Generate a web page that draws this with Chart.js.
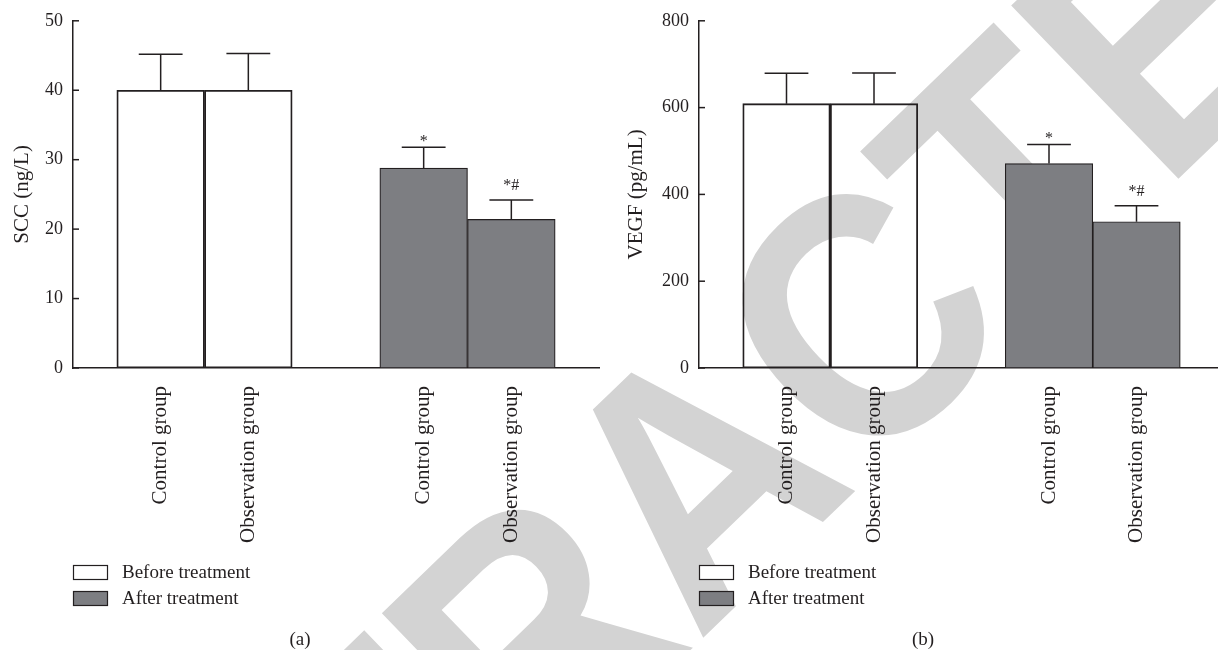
<!DOCTYPE html>
<html>
<head>
<meta charset="utf-8">
<script src="https://cdn.jsdelivr.net/npm/chart.js@4.4.0/dist/chart.umd.min.js"></script>
<style>
html, body { margin: 0; padding: 0; background: #fff; overflow: hidden; width: 1218px; height: 650px; }
.panel { position: absolute; top: 0; height: 650px; }
#wrapA { left: 0; width: 609px; }
#wrapB { left: 609px; width: 625px; }
</style>
</head>
<body>
<div class="panel" id="wrapA"><canvas id="chartA"></canvas></div>
<div class="panel" id="wrapB"><canvas id="chartB"></canvas></div>
<script>
// Data
const groupLabels = ['', 'Control group', 'Observation group', '', 'Control group', 'Observation group', ''];
const seriesNames = ['Before treatment', 'After treatment'];
const markLabels = ['', '', '', '', '*', '*#', ''];

// (a) SCC
const sccBefore = [null, 40.0, 40.0, null, null, null, null];
const sccAfter = [null, null, null, null, 28.8, 21.4, null];
const sccUpper = [null, 45.2, 45.3, null, 31.8, 24.2, null];
const sccTicks = [0, 10, 20, 30, 40, 50];

// (b) VEGF
const vegfBefore = [null, 609, 609, null, null, null, null];
const vegfAfter = [null, null, null, null, 471, 337, null];
const vegfUpper = [null, 679, 680, null, 515, 374, null];
const vegfTicks = [0, 200, 400, 600, 800];

const INK = '#231f20';
const SERIF = '"Liberation Serif", "DejaVu Serif", serif';
const legendFill = ['#ffffff', '#7d7e82'];
const barFill = ['rgba(255,255,255,0)', '#7d7e82']; // open bars let the watermark show through

// Watermark (drawn first), error bars, significance marks, inward ticks, legend, caption
const extrasPlugin = {
    id: 'extras',
    beforeDraw(chart, args, opts) {
        const ctx = chart.ctx;
        const wm = opts.watermark;
        ctx.save();
        ctx.translate(wm.cx - opts.pageLeft, wm.cy);
        ctx.rotate(wm.angle * Math.PI / 180);
        ctx.scale(wm.squeeze, 1);
        ctx.font = 'bold ' + wm.size + 'px "Liberation Sans", Arial, sans-serif';
        ctx.fillStyle = '#d3d3d3';
        ctx.textBaseline = 'alphabetic';
        ctx.textAlign = 'left';
        const pre = ctx.measureText('RETRA').width;
        const cw = ctx.measureText('C').width;
        ctx.fillText('RETRACTED', -pre - cw / 2, wm.size * 0.716 / 2);
        ctx.restore();
    },
    afterDatasetsDraw(chart, args, opts) {
        const ctx = chart.ctx;
        const y = chart.scales.y;
        const upper = opts.upper;

        ctx.save();
        ctx.strokeStyle = INK;
        ctx.lineWidth = 1.5;
        chart.data.datasets.forEach((ds, d) => {
            const meta = chart.getDatasetMeta(d);
            ds.data.forEach((v, i) => {
                if (v === null || upper[i] === null) return;
                const bar = meta.data[i];
                const yTop = y.getPixelForValue(v);
                const yErr = y.getPixelForValue(upper[i]);
                const half = bar.width / 4;
                ctx.beginPath();
                ctx.moveTo(bar.x, yTop);
                ctx.lineTo(bar.x, yErr);
                ctx.moveTo(bar.x - half, yErr);
                ctx.lineTo(bar.x + half, yErr);
                ctx.stroke();

                const mark = markLabels[i];
                if (mark) {
                    ctx.fillStyle = INK;
                    ctx.font = '16px ' + SERIF;
                    ctx.textAlign = 'center';
                    ctx.textBaseline = 'alphabetic';
                    ctx.fillText(mark, bar.x, yErr - (mark.length > 1 ? 10 : 1));
                }
            });
        });

        // inward tick marks
        y.ticks.forEach(t => {
            const py = y.getPixelForValue(t.value);
            ctx.beginPath();
            ctx.moveTo(y.right, py);
            ctx.lineTo(y.right + 6, py);
            ctx.stroke();
        });
        ctx.restore();
    },
    afterDraw(chart, args, opts) {
        const ctx = chart.ctx;
        const left = chart.chartArea.left;

        // legend
        ctx.save();
        ctx.font = '19px ' + SERIF;
        ctx.textBaseline = 'middle';
        ctx.textAlign = 'left';
        chart.data.datasets.forEach((ds, d) => {
            const top = opts.legendTop + d * 26;
            ctx.fillStyle = legendFill[d];
            ctx.fillRect(left, top, 35, 15);
            ctx.strokeStyle = INK;
            ctx.lineWidth = 1.2;
            ctx.strokeRect(left + 0.5, top + 0.5, 34, 14);
            ctx.fillStyle = INK;
            ctx.fillText(ds.label, left + 49, top + 8);
        });

        // caption
        ctx.textAlign = 'center';
        ctx.fillText(opts.caption, opts.captionX, 640);
        ctx.restore();
    }
};

const watermark = { cx: 856, cy: 316, angle: -44, size: 350, squeeze: 0.9 };

function makeChart(id, before, after, upper, ticks, yTitle, yWidth, titlePad, caption, captionX, pageLeft) {
    return new Chart(document.getElementById(id), {
        type: 'bar',
        data: {
            labels: groupLabels,
            datasets: [
                { label: seriesNames[0], data: before, backgroundColor: barFill[0] },
                { label: seriesNames[1], data: after, backgroundColor: barFill[1] }
            ]
        },
        options: {
            responsive: true,
            maintainAspectRatio: false,
            animation: false,
            layout: { padding: { top: 18, right: 10, bottom: 0, left: 0 } },
            datasets: {
                bar: {
                    borderColor: INK,
                    borderWidth: 1.2,
                    borderSkipped: false,
                    barPercentage: 1,
                    categoryPercentage: 1
                }
            },
            plugins: {
                legend: { display: false },
                tooltip: { enabled: false },
                extras: {
                    upper: upper,
                    legendTop: 565,
                    caption: caption,
                    captionX: captionX,
                    pageLeft: pageLeft,
                    watermark: watermark
                }
            },
            scales: {
                x: {
                    stacked: true,
                    offset: false,
                    grid: { display: false },
                    border: { display: true, color: INK, width: 1.5 },
                    ticks: {
                        autoSkip: false,
                        minRotation: 90,
                        maxRotation: 90,
                        padding: 10,
                        color: INK,
                        font: { family: SERIF, size: 21 }
                    },
                    afterFit(s) {
                        s.paddingLeft = 0;
                        s.paddingRight = 0;
                        s.height = 282;
                    }
                },
                y: {
                    min: ticks[0],
                    max: ticks[ticks.length - 1],
                    afterBuildTicks(s) {
                        s.ticks = ticks.map(v => ({ value: v }));
                    },
                    grid: { display: false, drawTicks: false },
                    border: { display: true, color: INK, width: 1.5 },
                    ticks: {
                        padding: 10,
                        color: INK,
                        font: { family: SERIF, size: 18 }
                    },
                    title: {
                        display: true,
                        text: yTitle,
                        color: INK,
                        padding: { top: titlePad, bottom: 0 },
                        font: { family: SERIF, size: 21 }
                    },
                    afterFit(s) {
                        s.width = yWidth;
                    }
                }
            }
        },
        plugins: [extrasPlugin]
    });
}

makeChart('chartA', sccBefore, sccAfter, sccUpper, sccTicks, 'SCC (ng/L)', 73, 10, '(a)', 300, 0);
makeChart('chartB', vegfBefore, vegfAfter, vegfUpper, vegfTicks, 'VEGF (pg/mL)', 90, 15, '(b)', 314, 609);
</script>
</body>
</html>
